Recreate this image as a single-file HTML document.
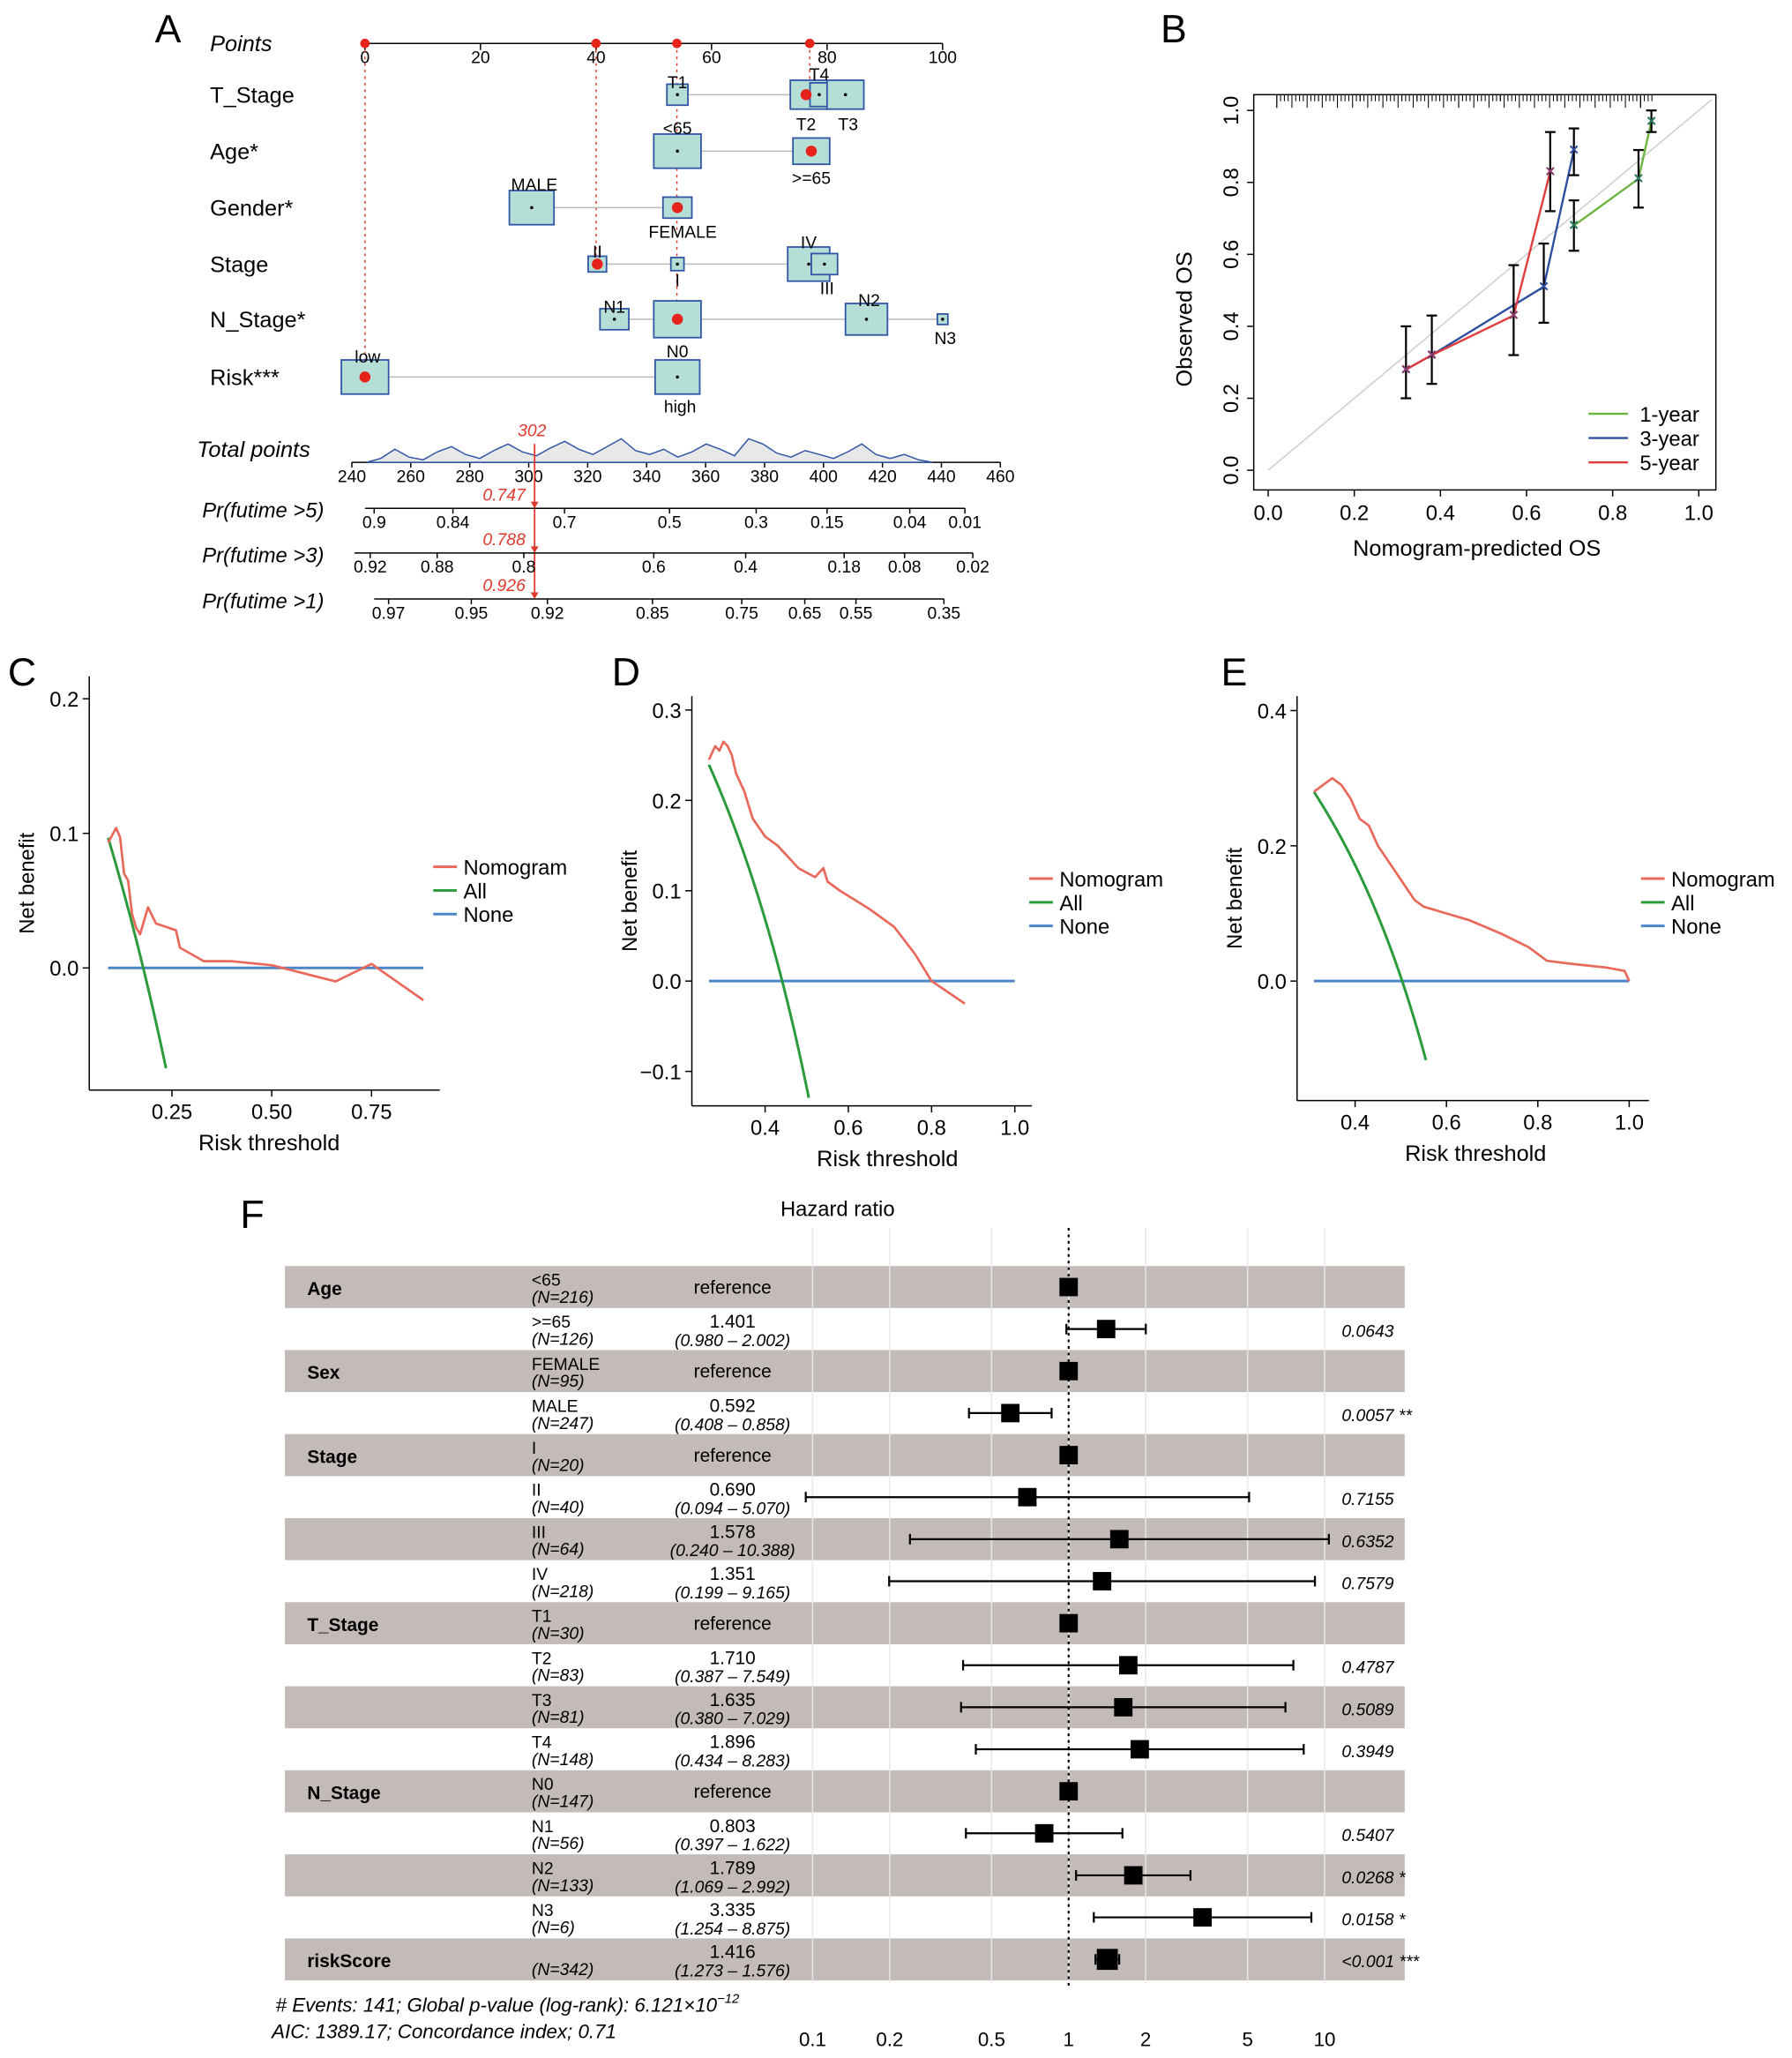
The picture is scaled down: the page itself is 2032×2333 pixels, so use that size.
<!DOCTYPE html>
<html><head><meta charset="utf-8"><style>
html,body{margin:0;padding:0;background:#fff}
svg{display:block;font-family:"Liberation Sans",Arial,sans-serif}
</style></head><body>
<svg id="fig" width="2032" height="2333" viewBox="0 0 1365 1567" xmlns="http://www.w3.org/2000/svg"></svg>
<script>
// ---------- data ----------
const pointsTicks=[0,20,40,60,80,100];
const nomoRows=["Points","T_Stage","Age*","Gender*","Stage","N_Stage*","Risk***"];
const totalTicks=[240,260,280,300,320,340,360,380,400,420,440,460];
const pr5Labels=["0.9","0.84","0.7","0.5","0.3","0.15","0.04","0.01"];
const pr5Pos=[285,345,430,510,576,630,693,735];
const pr3Labels=["0.92","0.88","0.8","0.6","0.4","0.18","0.08","0.02"];
const pr3Pos=[282,333,399,498,568,643,689,741];
const pr1Labels=["0.97","0.95","0.92","0.85","0.75","0.65","0.55","0.35"];
const pr1Pos=[296,359,417,497,565,613,652,719];
const totalPointsValue=302;

const calX1=[0.71,0.86,0.89];const calY1=[0.68,0.81,0.97];
const calX3=[0.32,0.38,0.64,0.71];const calY3=[0.28,0.32,0.51,0.89];
const calX5=[0.32,0.38,0.57,0.655];const calY5=[0.28,0.32,0.43,0.83];
const errX=[0.32,0.38,0.57,0.64,0.655,0.71,0.71,0.86,0.89];
const errLo=[0.2,0.24,0.32,0.41,0.72,0.61,0.82,0.73,0.94];
const errHi=[0.4,0.43,0.57,0.63,0.94,0.75,0.95,0.89,1.0];
const calTicks=[0,0.2,0.4,0.6,0.8,1.0];

const cThr=[0.09,0.11,0.12,0.13,0.14,0.15,0.16,0.17,0.18,0.19,0.21,0.24,0.26,0.27,0.3,0.33,0.4,0.5,0.66,0.75,0.88];
const cNomo=[0.093,0.104,0.097,0.07,0.065,0.04,0.03,0.025,0.035,0.045,0.033,0.03,0.028,0.015,0.01,0.005,0.005,0.002,-0.01,0.003,-0.024];
const cPrev=0.178;
const dThr=[0.265,0.28,0.29,0.3,0.31,0.32,0.33,0.35,0.37,0.4,0.43,0.45,0.48,0.52,0.54,0.55,0.58,0.65,0.71,0.76,0.8,0.88];
const dNomo=[0.245,0.26,0.255,0.265,0.26,0.25,0.23,0.21,0.18,0.16,0.15,0.14,0.125,0.115,0.125,0.11,0.1,0.08,0.06,0.03,0.0,-0.025];
const dPrev=0.441;
const eThr=[0.31,0.33,0.35,0.37,0.39,0.41,0.43,0.45,0.47,0.5,0.53,0.55,0.6,0.65,0.72,0.78,0.82,0.88,0.95,0.99,1.0];
const eNomo=[0.28,0.29,0.3,0.29,0.27,0.24,0.23,0.2,0.18,0.15,0.12,0.11,0.1,0.09,0.07,0.05,0.03,0.025,0.02,0.015,0.0];
const ePrev=0.503;

const fVars=["Age","","Sex","","Stage","","","","T_Stage","","","","N_Stage","","","","riskScore"];
const fLevels=["<65",">=65","FEMALE","MALE","I","II","III","IV","T1","T2","T3","T4","N0","N1","N2","N3",""];
const fN=[216,126,95,247,20,40,64,218,30,83,81,148,147,56,133,6,342];
const fHR=[1,1.401,1,0.592,1,0.690,1.578,1.351,1,1.710,1.635,1.896,1,0.803,1.789,3.335,1.416];
const fLo=[null,0.980,null,0.408,null,0.094,0.240,0.199,null,0.387,0.380,0.434,null,0.397,1.069,1.254,1.273];
const fHi=[null,2.002,null,0.858,null,5.070,10.388,9.165,null,7.549,7.029,8.283,null,1.622,2.992,8.875,1.576];
const fP=["","0.0643","","0.0057 **","","0.7155","0.6352","0.7579","","0.4787","0.5089","0.3949","","0.5407","0.0268 *","0.0158 *","<0.001 ***"];
const fTicks=[0.1,0.2,0.5,1,2,5,10];

// ---------- helpers ----------
const NS="http://www.w3.org/2000/svg";
const svg=document.getElementById('fig');
function mk(tag,attrs,name,parent){
  const el=document.createElementNS(NS,tag);
  for(const k in attrs) el.setAttribute(k,attrs[k]);
  
  
  (parent||svg).appendChild(el);return el;
}
function txt(x,y,s,name,o){o=o||{};
  const t=mk('text',Object.assign({x:x,y:y,'font-size':o.fs||15,fill:o.fill||'#000','text-anchor':o.a||'start'},o.extra||{}),name);
  t.textContent=s;return t;}
function line(x1,y1,x2,y2,name,st,w,dash){return mk('line',Object.assign({x1,y1,x2,y2,stroke:st||'#000','stroke-width':w||1},dash?{'stroke-dasharray':dash}:{}),name);}
function poly(pts,name,st,w){return mk('polyline',{points:pts.map(p=>p.join(',')).join(' '),fill:'none',stroke:st,'stroke-width':w||1.6,'stroke-linejoin':'round'},name);}

// ---------- panel letters ----------
txt(118,32,"A","panel-label-a",{fs:30});txt(884,32,"B","panel-label-b",{fs:30});
txt(6,522,"C","panel-label-c",{fs:30});txt(466,522,"D","panel-label-d",{fs:30});
txt(930,522,"E","panel-label-e",{fs:30});txt(183,935,"F","panel-label-f",{fs:30});

// ---------- Panel A nomogram ----------
const px=v=>278+v*4.4;
const rowY=[33,72,115,158,201,243,287];
nomoRows.forEach((r,i)=>txt(160,rowY[i]+6,r,'row-label-'+i,{fs:17,extra:i==0?{'font-style':'italic'}:{}}));
line(px(0),33,px(100),33,'points-axis');
pointsTicks.forEach(v=>{line(px(v),33,px(v),38,'points-tick');txt(px(v),48,String(v),'points-tick-label',{fs:13,a:'middle'});});
[[0,287],[40,201],[54,243],[77,72]].forEach(([v,y])=>line(px(v),33,px(v),y,'selected-dashed-line','#e0392f',1,'2,3'));
[0,40,54,77].forEach(v=>mk('circle',{cx:px(v),cy:33,r:3.6,fill:'#e5231b'},'selected-point-marker'));
const boxes=[
 [72,[[516,16,16,'T1',0,-10],[616,28,22,'T4',8,-16],[624,14,18,'',0,0],[644,28,22,'T3',2,22],[614,0,0,'T2',0,22]],[516,644],614],
 [115,[[516,36,26,'<65',0,-18],[618,28,20,'>=65',0,20]],[516,618],618],
 [158,[[405,34,26,'MALE',2,-18],[516,22,16,'FEMALE',4,18]],[405,516],516],
 [201,[[455,14,12,'II',0,-10],[516,10,10,'I',0,12],[616,32,26,'IV',0,-17],[628,20,16,'III',2,18]],[455,628],455],
 [243,[[468,22,16,'N1',0,-10],[516,36,28,'N0',0,24],[660,32,24,'N2',2,-15],[718,8,8,'N3',2,14]],[468,718],516],
 [287,[[278,36,26,'low',2,-16],[516,34,26,'high',2,22]],[278,516],278]];
boxes.forEach((b,ri)=>{const y=b[0];
  line(b[2][0],y,b[2][1],y,'row-line-'+ri,'#bbb',1);
  b[1].forEach(bx=>{
    if(bx[1]>0){mk('rect',{x:bx[0]-bx[1]/2,y:y-bx[2]/2,width:bx[1],height:bx[2],fill:'#b5ded6',stroke:'#2f55a4','stroke-width':1.2},'level-box');
      mk('circle',{cx:bx[0],cy:y,r:1.2,fill:'#000'},'level-dot');}
    if(bx[3]) txt(bx[0]+bx[4],y+bx[5]+5,bx[3],'level-label',{fs:13,a:'middle'});
  });
  mk('circle',{cx:b[3],cy:y,r:4.2,fill:'#e5231b'},'selected-level-dot');
});
const tx=v=>268+(v-240)*(494/220);
txt(150,348,"Total points","total-points-label",{fs:17,extra:{'font-style':'italic'}});
line(tx(240),352,tx(460),352,'total-points-axis');
totalTicks.forEach(v=>{line(tx(v),352,tx(v),356,'total-tick');txt(tx(v),367,String(v),'total-tick-label',{fs:13,a:'middle'});});
const dens=[0,3,10,4,2,8,12,6,3,9,14,8,5,11,16,10,6,12,18,9,6,10,4,8,14,10,5,18,14,7,4,9,6,3,8,14,6,3,6,2,0];
const dpts=dens.map((d,i)=>[tx(245+i*4.8),352-d]);
mk('path',{d:'M'+dpts.map(p=>p.join(',')).join(' L')+' Z',fill:'#e8e8e8',stroke:'#2f55a4','stroke-width':1},'total-points-density');
txt(tx(totalPointsValue)-2,332,String(totalPointsValue),'total-points-value',{fs:13,fill:'#e0392f',a:'middle',extra:{'font-style':'italic'}});
line(tx(totalPointsValue),338,tx(totalPointsValue),455,'total-points-red-line','#e0392f',1.2);
[[387,"Pr(futime >5)",pr5Labels,pr5Pos,"0.747",278,735],[421,"Pr(futime >3)",pr3Labels,pr3Pos,"0.788",270,741],[456,"Pr(futime >1)",pr1Labels,pr1Pos,"0.926",285,719]].forEach((r,i)=>{
  txt(154,r[0]+7,r[1],'prob-axis-title-'+i,{fs:16,extra:{'font-style':'italic'}});
  line(r[5],r[0],r[6],r[0],'prob-axis-'+i);
  r[2].forEach((l,j)=>{line(r[3][j],r[0],r[3][j],r[0]+4,'prob-tick');txt(r[3][j],r[0]+15,l,'prob-tick-label',{fs:13,a:'middle'});});
  txt(384,r[0]-6,r[4],'prob-value-'+i,{fs:13,fill:'#e0392f',a:'middle',extra:{'font-style':'italic'}});
  mk('path',{d:`M${tx(totalPointsValue)-3},${r[0]-5} L${tx(totalPointsValue)+3},${r[0]-5} L${tx(totalPointsValue)},${r[0]}Z`,fill:'#e0392f'},'prob-arrow');
});

// ---------- Panel B calibration ----------
const bx=v=>966+v*328, by=v=>358-v*274;
mk('rect',{x:955,y:72,width:352,height:301,fill:'none',stroke:'#000','stroke-width':1},'calibration-frame');
line(bx(0),by(0),bx(1.03),by(1.03),'ideal-diagonal','#ccc',1);
for(let i=0;i<110;i++){const v=0.02+((i*37)%100)/100*0.88;line(bx(v),72,bx(v),72+ (i%4==0?10:5),'rug-tick','#000',0.7);}
calTicks.forEach(v=>{line(bx(v),373,bx(v),378,'x-tick');txt(bx(v),396,v.toFixed(1),'x-tick-label',{fs:16,a:'middle'});
  line(955,by(v),950,by(v),'y-tick');txt(943,by(v),v.toFixed(1),'y-tick-label',{fs:16,a:'middle',extra:{transform:`rotate(-90 943 ${by(v)})`}});});
txt(1125,423,"Nomogram-predicted OS","x-axis-title",{fs:17,a:'middle'});
txt(908,243,"Observed OS","y-axis-title",{fs:17,a:'middle',extra:{transform:'rotate(-90 908 243)'}});
poly(calX1.map((x,i)=>[bx(x),by(calY1[i])]),'series-1-year','#6cb33f');
poly(calX3.map((x,i)=>[bx(x),by(calY3[i])]),'series-3-year','#2f4fa0');
poly(calX5.map((x,i)=>[bx(x),by(calY5[i])]),'series-5-year','#e03c3c');
errX.forEach((x,i)=>{line(bx(x),by(errLo[i]),bx(x),by(errHi[i]),'error-bar','#000',1.5);
  line(bx(x)-4,by(errLo[i]),bx(x)+4,by(errLo[i]),'error-cap','#000',1.5);line(bx(x)-4,by(errHi[i]),bx(x)+4,by(errHi[i]),'error-cap','#000',1.5);});
[[calX1,calY1,'#2a7a5a'],[calX3,calY3,'#2f4fa0'],[calX5,calY5,'#8a3a6a']].forEach(s=>s[0].forEach((x,i)=>{
  txt(bx(x),by(s[1][i])+4,'×','cal-point',{fs:13,a:'middle',fill:s[2],extra:{'font-weight':'bold'}});}));
[['1-year','#6cb33f'],['3-year','#2f4fa0'],['5-year','#e03c3c']].forEach((l,i)=>{const y=315+i*18.5;
  line(1210,y,1240,y,'legend-line-'+l[0],l[1],1.6);txt(1249,y+6,l[0],'legend-label-'+l[0],{fs:16});});

// ---------- DCA panels ----------
function dca(id,x0,y0,x1,y1,xs,ys,xt,xtl,yt,ytl,thr,nomo,prev,nMax,allMinY,lx,ly,titleX){
  line(x0,y0,x0,y1,id+'-y-axis');line(x0,y1,x1,y1,id+'-x-axis');
  xt.forEach((v,i)=>{line(xs(v),y1,xs(v),y1+5,id+'-x-tick');txt(xs(v),y1+22,xtl[i],id+'-x-tick-label',{fs:16,a:'middle'});});
  yt.forEach((v,i)=>{line(x0,ys(v),x0-5,ys(v),id+'-y-tick');txt(x0-8,ys(v)+6,ytl[i],id+'-y-tick-label',{fs:16,a:'end'});});
  txt(titleX,y1+46,"Risk threshold",id+'-x-title',{fs:17,a:'middle'});
  const yc=(y0+y1)/2;txt(x0-42,yc,"Net benefit",id+'-y-title',{fs:16,a:'middle',extra:{transform:`rotate(-90 ${x0-42} ${yc})`}});
  line(xs(thr[0]),ys(0),xs(nMax),ys(0),id+'-none-line','#4a86c8',2);
  const allPts=[];for(let t=thr[0];;t+=0.005){const nb=prev-(1-prev)*t/(1-t);if(nb<allMinY){break;}allPts.push([xs(t),ys(nb)]);}
  poly(allPts,id+'-all-line','#2a9a3a',2);
  poly(thr.map((t,i)=>[xs(t),ys(nomo[i])]),id+'-nomogram-line','#e8685a',1.8);
  [['Nomogram','#e8685a'],['All','#2a9a3a'],['None','#4a86c8']].forEach((l,i)=>{const y=ly+i*18;
    line(lx,y,lx+18,y,id+'-legend-line-'+l[0],l[1],2);txt(lx+23,y+6,l[0],id+'-legend-label-'+l[0],{fs:16});});
}
dca('c',68,515,335,830,v=>55+v*304,v=>737-v*1025,[0.25,0.5,0.75],['0.25','0.50','0.75'],[0.2,0.1,0],['0.2','0.1','0.0'],cThr,cNomo,cPrev,0.88,-0.078,330,660,205);
dca('d',527,530,786,842,v=>456+v*317,v=>747-v*688,[0.4,0.6,0.8,1.0],['0.4','0.6','0.8','1.0'],[0.3,0.2,0.1,0,-0.1],['0.3','0.2','0.1','0.0','\u22120.1'],dThr,dNomo,dPrev,1.0,-0.13,784,669,676);
dca('e',988,530,1256,838,v=>893+v*348,v=>747-v*515,[0.4,0.6,0.8,1.0],['0.4','0.6','0.8','1.0'],[0.4,0.2,0],['0.4','0.2','0.0'],eThr,eNomo,ePrev,1.0,-0.125,1250,669,1124);

// ---------- Panel F forest ----------
const fx=v=>814+Math.log10(v)*195;
txt(638,926,"Hazard ratio","forest-title",{fs:16,a:'middle'});
fVars.forEach((v,i)=>{const y=980+i*32;
  if(i%2==0) mk('rect',{x:217,y:y-16,width:853,height:32,fill:'#c3bbb8'},'forest-row-bg');});
fTicks.forEach(v=>{line(fx(v),935,fx(v),1510,'forest-grid','#e8e8e8',1);txt(fx(v),1558,String(v),'forest-tick-label',{fs:15,a:'middle'});});
line(fx(1),935,fx(1),1515,'forest-null-line','#000',1.5,'2,3');
fVars.forEach((v,i)=>{const y=980+i*32;
  if(v) txt(234,y+6,v,'forest-variable',{fs:14,extra:{'font-weight':'bold'}});
  if(fLevels[i]) txt(405,y-1,fLevels[i],'forest-level',{fs:13});
  txt(405,y+12,'(N='+fN[i]+')','forest-n',{fs:13,extra:{'font-style':'italic'}});
  if(fLo[i]==null){txt(558,y+5,'reference','forest-reference',{fs:14,a:'middle'});}
  else{txt(558,y-1,fHR[i].toFixed(3),'forest-hr',{fs:14,a:'middle'});
    txt(558,y+13,'('+fLo[i].toFixed(3)+' \u2013  '+fHi[i].toFixed(3)+')','forest-ci',{fs:13,a:'middle',extra:{'font-style':'italic'}});
    line(fx(fLo[i]),y,fx(fHi[i]),y,'forest-ci-line','#000',1.5);
    line(fx(fLo[i]),y-4,fx(fLo[i]),y+4,'forest-ci-cap','#000',1.5);line(fx(fHi[i]),y-4,fx(fHi[i]),y+4,'forest-ci-cap','#000',1.5);}
  const s=i==16?16:14;
  mk('rect',{x:fx(fHR[i])-s/2,y:y-s/2,width:s,height:s,fill:'#000'},'forest-hr-square');
  if(fP[i]) txt(1022,y+6,fP[i],'forest-pvalue',{fs:13,extra:{'font-style':'italic'}});
});
const f1=txt(210,1532,"# Events: 141; Global p-value (log-rank): 6.121\u00d710","forest-footer-1",{fs:15,extra:{'font-style':'italic'}});
const sup=document.createElementNS(NS,'tspan');


sup.setAttribute('dy','-7');sup.setAttribute('font-size','10');
sup.textContent='\u221212';f1.appendChild(sup);
txt(207,1552,"AIC: 1389.17; Concordance index; 0.71","forest-footer-2",{fs:15,extra:{'font-style':'italic'}});
</script>
</body></html>
